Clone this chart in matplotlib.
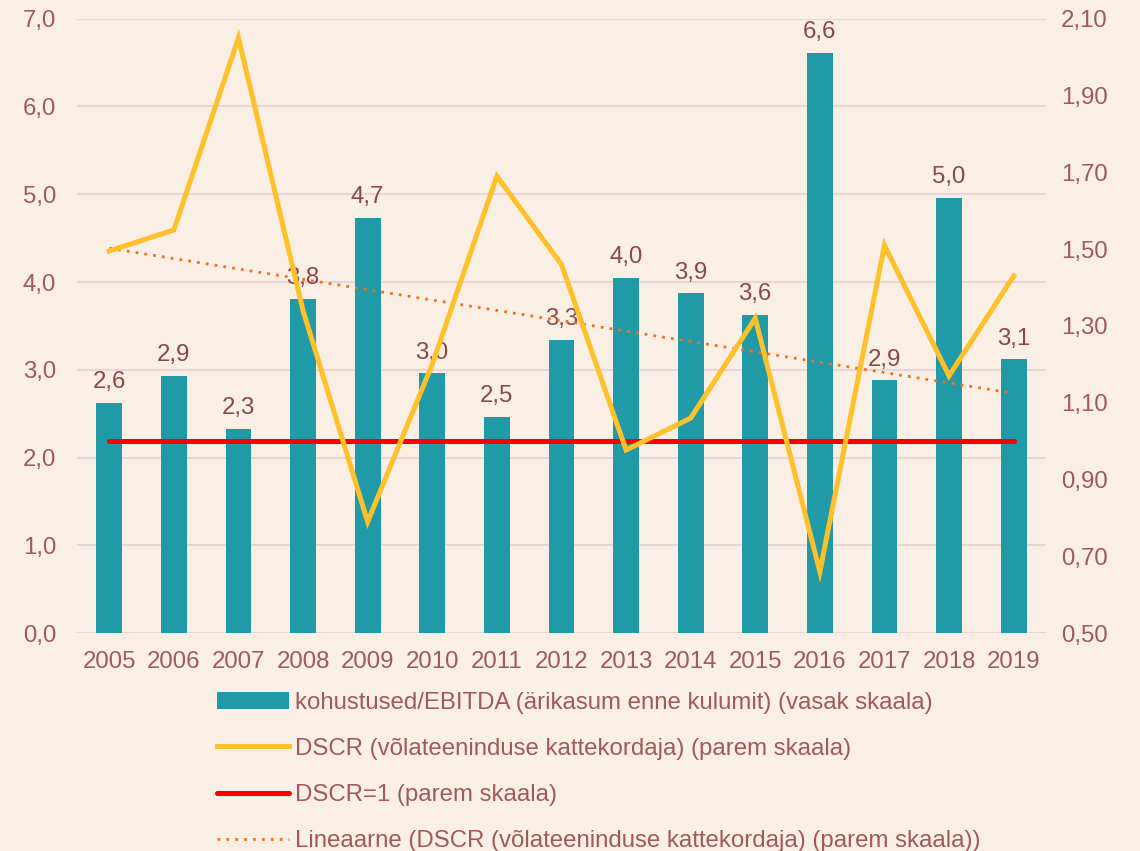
import numpy as np
import matplotlib
matplotlib.use("Agg")
import matplotlib.pyplot as plt
from matplotlib.ticker import FuncFormatter

plt.rcParams["font.family"] = ["Liberation Sans", "DejaVu Sans"]

# Data
years = ["2005", "2006", "2007", "2008", "2009", "2010", "2011", "2012",
         "2013", "2014", "2015", "2016", "2017", "2018", "2019"]
debt_ebitda = [2.62, 2.93, 2.33, 3.81, 4.73, 2.96, 2.46, 3.34,
               4.05, 3.87, 3.63, 6.61, 2.88, 4.96, 3.12]
dscr = [1.495, 1.55, 2.05, 1.34, 0.79, 1.20, 1.69, 1.46,
        0.977, 1.06, 1.32, 0.66, 1.51, 1.17, 1.43]
dscr_limit = 1.0

BG = "#FAEFE5"
TEXT = "#A05A5A"
LABEL = "#8A4848"
GRID = "#E8D5D5"
TEAL = "#1F9AA6"
YELLOW = "#FFC12B"
RED = "#FF0000"
ORANGE = "#F07022"
FS = 17.3

x = np.arange(len(years))

fig = plt.figure(figsize=(11.4, 8.51), dpi=100, facecolor=BG)
ax = fig.add_axes([0.0675, 0.256, 0.85, 0.722])
ax.set_facecolor(BG)

bars = ax.bar(x, debt_ebitda, width=0.4, color=TEAL, zorder=2,
              label="kohustused/EBITDA (ärikasum enne kulumit) (vasak skaala)")
for xi, v in zip(x, debt_ebitda):
    ax.annotate(f"{v:.1f}".replace(".", ","), (xi, v), xytext=(0, 7),
                textcoords="offset points", ha="center", va="bottom",
                fontsize=FS, color=LABEL, zorder=3)

ax.set_xlim(-0.5, len(years) - 0.5)
ax.set_ylim(0, 7)
ax.set_yticks(np.arange(0, 7.01, 1.0))
ax.yaxis.set_major_formatter(FuncFormatter(lambda v, p: f"{v:.1f}".replace(".", ",")))
ax.set_xticks(x)
ax.set_xticklabels(years)
ax.grid(axis="y", color=GRID, linewidth=1.5, zorder=0)
ax.set_axisbelow(True)
ax.tick_params(axis="both", length=0, labelsize=FS, labelcolor=TEXT)
ax.tick_params(axis="y", pad=15)
ax.tick_params(axis="x", pad=13)
for s in ax.spines.values():
    s.set_visible(False)

ax2 = ax.twinx()
ax2.set_ylim(0.5, 2.1)
ax2.set_yticks(np.arange(0.5, 2.101, 0.2))
ax2.yaxis.set_major_formatter(FuncFormatter(lambda v, p: f"{v:.2f}".replace(".", ",")))
ax2.tick_params(axis="y", length=0, labelsize=FS, labelcolor=TEXT, pad=11)
for s in ax2.spines.values():
    s.set_visible(False)

ln_dscr, = ax2.plot(x, dscr, color=YELLOW, linewidth=3.6, solid_joinstyle="miter",
                    zorder=4, label="DSCR (võlateeninduse kattekordaja) (parem skaala)")
ln_one, = ax2.plot(x, [dscr_limit] * len(x), color=RED, linewidth=3.6,
                   solid_capstyle="round", zorder=3, label="DSCR=1 (parem skaala)")
coef = np.polyfit(x, dscr, 1)
ln_trend, = ax2.plot(x, np.polyval(coef, x), color=ORANGE, linewidth=2,
                     linestyle=(0, (1, 2.2)), zorder=3,
                     label="Lineaarne (DSCR (võlateeninduse kattekordaja) (parem skaala))")

leg = fig.legend(handles=[bars, ln_dscr, ln_one, ln_trend], loc="upper left",
                 bbox_to_anchor=(0.19, 0.187), frameon=False, fontsize=FS,
                 handlelength=3.0, handletextpad=0.25, labelspacing=1.0,
                 borderaxespad=0, borderpad=0)
for t in leg.get_texts():
    t.set_color(TEXT)

fig.savefig("out.png", dpi=100, facecolor=BG)
